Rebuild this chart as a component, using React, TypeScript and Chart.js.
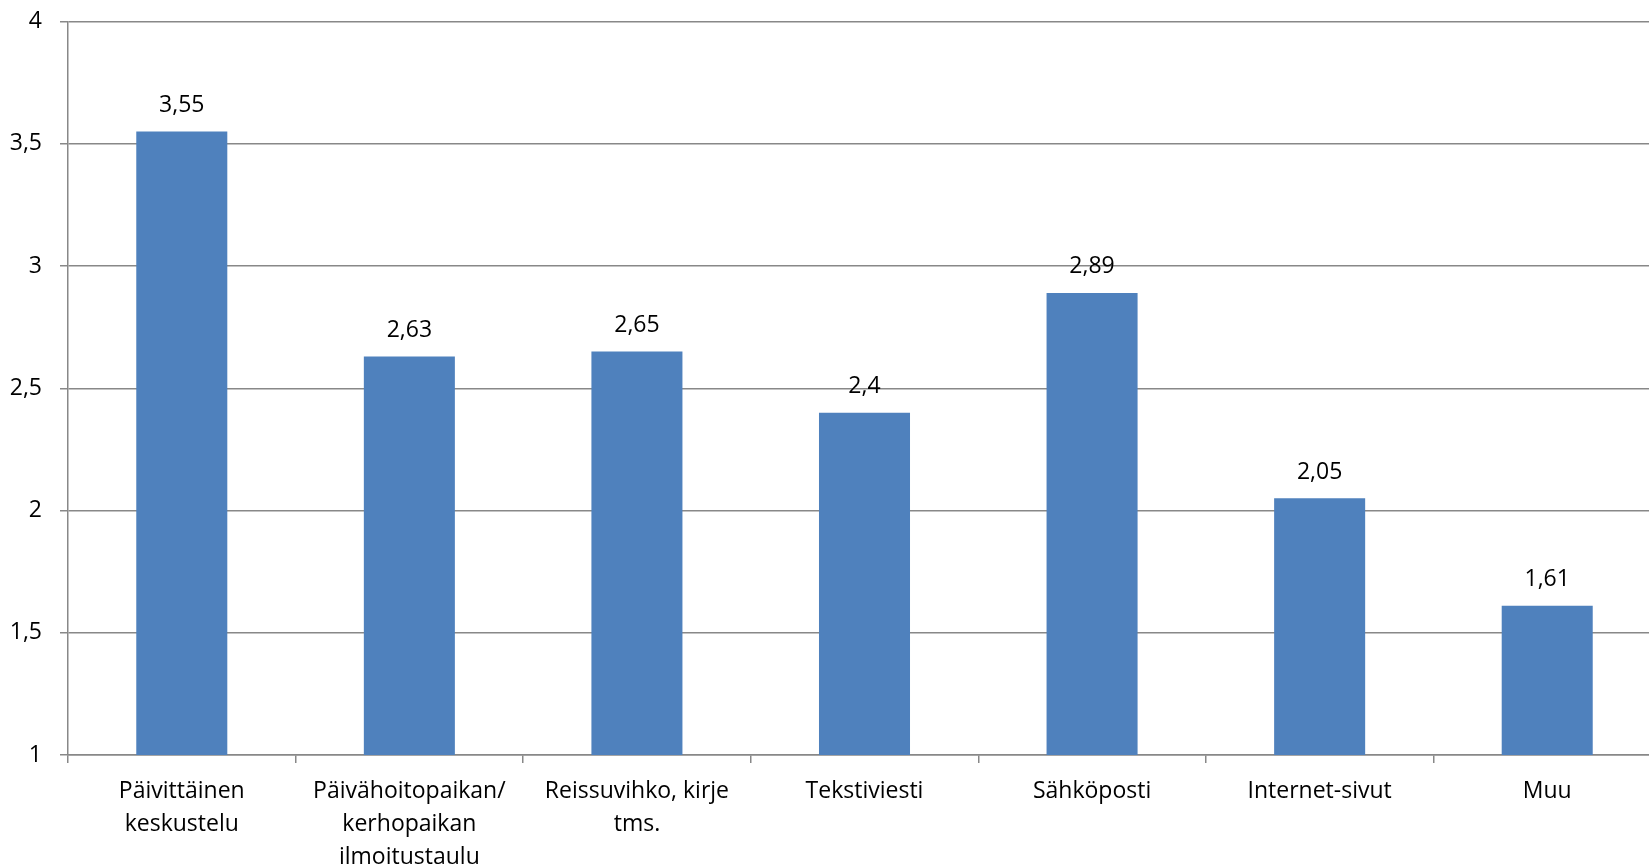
import React, { useEffect, useRef } from "react";
import { Chart, registerables } from "chart.js";

Chart.register(...registerables);

const categories: (string | string[])[] = [
  ["Päivittäinen", "keskustelu"],
  ["Päivähoitopaikan/", "kerhopaikan", "ilmoitustaulu"],
  ["Reissuvihko, kirje", "tms."],
  "Tekstiviesti",
  "Sähköposti",
  "Internet-sivut",
  "Muu",
];
const values: number[] = [3.55, 2.63, 2.65, 2.4, 2.89, 2.05, 1.61];
const yMin = 1;
const yMax = 4;
const yStep = 0.5;

const FONT = "'Open Sans', Lato, sans-serif";
const FS = 23;
const fmt = (v: number) => String(v).replace(".", ",");

const labelPlugin = {
  id: "barValueLabels",
  afterDatasetsDraw(chart: any) {
    const ctx = chart.ctx;
    const meta = chart.getDatasetMeta(0);
    ctx.save();
    ctx.font = `${FS}px ${FONT}`;
    ctx.fillStyle = "#000";
    ctx.textAlign = "center";
    ctx.textBaseline = "middle";
    meta.data.forEach((el: any, i: number) => {
      ctx.fillText(fmt(values[i]), el.x, el.y - 26);
    });
    ctx.restore();
  },
};

export default function App() {
  const ref = useRef<HTMLCanvasElement>(null);
  useEffect(() => {
    if (!ref.current) return;
    const chart = new Chart(ref.current, {
      type: "bar",
      data: {
        labels: categories,
        datasets: [
          {
            data: values,
            backgroundColor: "#4F81BD",
            borderWidth: 0,
            categoryPercentage: 1,
            barPercentage: 0.4,
          },
        ],
      },
      options: {
        animation: false,
        responsive: false,
        maintainAspectRatio: false,
        layout: { padding: { top: 21.5, left: 0, right: 0, bottom: 0 } },
        plugins: {
          legend: { display: false },
          tooltip: { enabled: false },
        },
        scales: {
          x: {
            offset: true,
            grid: {
              offset: true,
              drawOnChartArea: false,
              drawTicks: true,
              tickLength: 8,
              color: "#888888",
              lineWidth: 1.5,
            },
            border: { color: "#888888", width: 1.5 },
            ticks: {
              color: "#000",
              font: { family: FONT, size: FS, lineHeight: 1.43 },
              padding: 12,
              maxRotation: 0,
              autoSkip: false,
            },
            afterFit: (s: any) => {
              s.height = 110;
              s.paddingLeft = 0;
              s.paddingRight = 0;
            },
          },
          y: {
            min: yMin,
            max: yMax,
            grid: {
              color: "#888888",
              lineWidth: 1.5,
              drawTicks: true,
              tickLength: 8,
            },
            border: { color: "#888888", width: 1.5 },
            ticks: {
              stepSize: yStep,
              color: "#000",
              font: { family: FONT, size: FS },
              padding: 18,
              callback: (v: any) => fmt(Number(v)),
            },
            afterFit: (s: any) => {
              s.width = 68;
              s.paddingTop = 0;
              s.paddingBottom = 0;
            },
          },
        },
      },
      plugins: [labelPlugin],
    });
    return () => chart.destroy();
  }, []);
  return (
    <div
      style={{
        position: "fixed",
        left: 0,
        top: 0,
        width: 1649,
        height: 865,
        overflow: "hidden",
        background: "#fff",
      }}
    >
      <canvas ref={ref} width={1661} height={865} style={{ display: "block" }} />
    </div>
  );
}
